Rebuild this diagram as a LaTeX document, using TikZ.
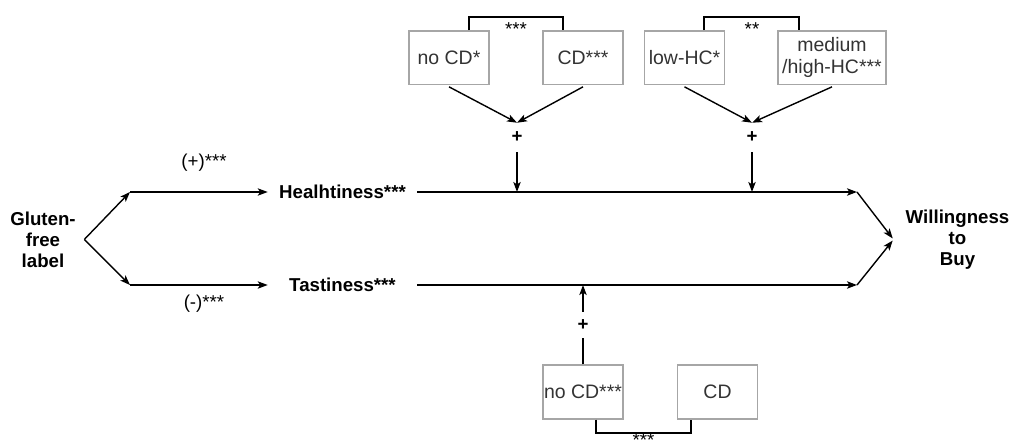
\documentclass[tikz,border=0pt]{standalone}
\usepackage{fontspec}
\setmainfont{Liberation Sans}
\usetikzlibrary{arrows.meta,calc}
\definecolor{boxgray}{HTML}{A6A6A6}
\definecolor{txtgray}{HTML}{333333}
\begin{document}
\begin{tikzpicture}[x=0.75pt,y=-0.75pt,
  every node/.style={font=\fontsize{14}{16}\selectfont},
  box/.style={draw=boxgray,line width=1pt,fill=white,inner sep=0pt,
    minimum width=60pt,minimum height=40pt,align=center,text=txtgray,
    font=\fontsize{14.6}{16.5}\selectfont},
  bold/.style={font=\bfseries\fontsize{14}{15.75}\selectfont,inner sep=0pt,align=center},
  arr/.style={line width=1.05pt,-{Stealth[length=7.5pt,width=5.5pt,inset=1.8pt]}},
  ln/.style={line width=1.05pt},
  bracket/.style={line width=0.9pt},
  plus/.style={inner sep=0pt,font=\bfseries\fontsize{14}{16}\selectfont}
]
\useasboundingbox (0,0) rectangle (1009,446);

% main nodes
\node[bold,minimum width=61.5pt] (glu) at (43,239.5) {Gluten-\\free\\label};
\node[bold,minimum width=111.75pt] (heal) at (342.5,192) {Healhtiness***};
\node[bold,minimum width=111.75pt] (tast) at (342.5,285) {Tastiness***};
\node[bold,minimum width=96.75pt] (wtb) at (957.5,239.5) {Willingness\\to\\Buy};

\coordinate (u1) at (130,192);
\coordinate (l1) at (130,285);
\coordinate (hend) at (857,192);
\coordinate (tend) at (857,285);

\node (lp) at (204,163) {(+)***};
\node (lm) at (204,304) {(-)***};

% left branches
\draw[arr] (glu.east) -- (u1);
\draw[arr] (u1) -- (heal.west);
\draw[arr] (glu.east) -- (l1);
\draw[arr] (l1) -- (tast.west);

% right branches
\draw[arr] (heal.east) -- (hend);
\draw[arr] (hend) -- ([yshift=0.75pt]wtb.west);
\draw[arr] (tast.east) -- (tend);
\draw[arr] (tend) -- ([yshift=-0.75pt]wtb.west);

% top moderators
\node[box] (nocd) at (449,57.5) {no CD*};
\node[box] (cd) at (583,57.5) {CD***};
\node[box] (low) at (684.5,57.5) {low-HC*};
\node[box,minimum width=81pt] (med) at (832,57.5) {medium\\/high-HC***};

\coordinate (b1) at (516,17);
\coordinate (b2) at (752,17);
\node (s1) at (516,29.5) {***};
\node (s2) at (752,29.5) {**};
\draw[bracket] ($(nocd.north)+(20,0)$) |- (b1) -| ($(cd.north)+(-20,0)$);
\draw[bracket] ($(low.north)+(19.5,0)$) |- (b2) -| ($(med.north)+(-33,0)$);

\node[plus,minimum height=21.75pt] (p1) at (517,137.5) {+};
\node[plus,minimum height=21.75pt] (p2) at (752,137.5) {+};
\coordinate (j1) at (517,192);
\coordinate (j2) at (752,192);

\draw[arr] ($(nocd.south)+(0,2)$) -- (p1.north);
\draw[arr] ($(cd.south)+(0,2)$) -- (p1.north);
\draw[arr] (p1.south) -- (j1);
\draw[arr] ($(low.south)+(0,2)$) -- (p2.north);
\draw[arr] ($(med.south)+(0,2)$) -- (p2.north);
\draw[arr] (p2.south) -- (j2);

% bottom moderator
\node[box,minimum height=40.5pt] (n3) at (583,392) {no CD***};
\node[box,minimum height=40.5pt] (cd3) at (717.5,392) {CD};
\node[plus,minimum height=19.5pt] (p3) at (583,325) {+};
\coordinate (j3) at (583,285);
\draw[ln] (n3.north) -- (p3.south);
\draw[arr] (p3.north) -- (j3);

\coordinate (b3) at (643.5,433);
\draw[bracket] ($(n3.south)+(13,0)$) |- (b3) -| ($(cd3.south)+(-26.5,0)$);
\node[inner sep=0pt] (s3) at (643.5,440.5) {***};
\end{tikzpicture}
\end{document}
